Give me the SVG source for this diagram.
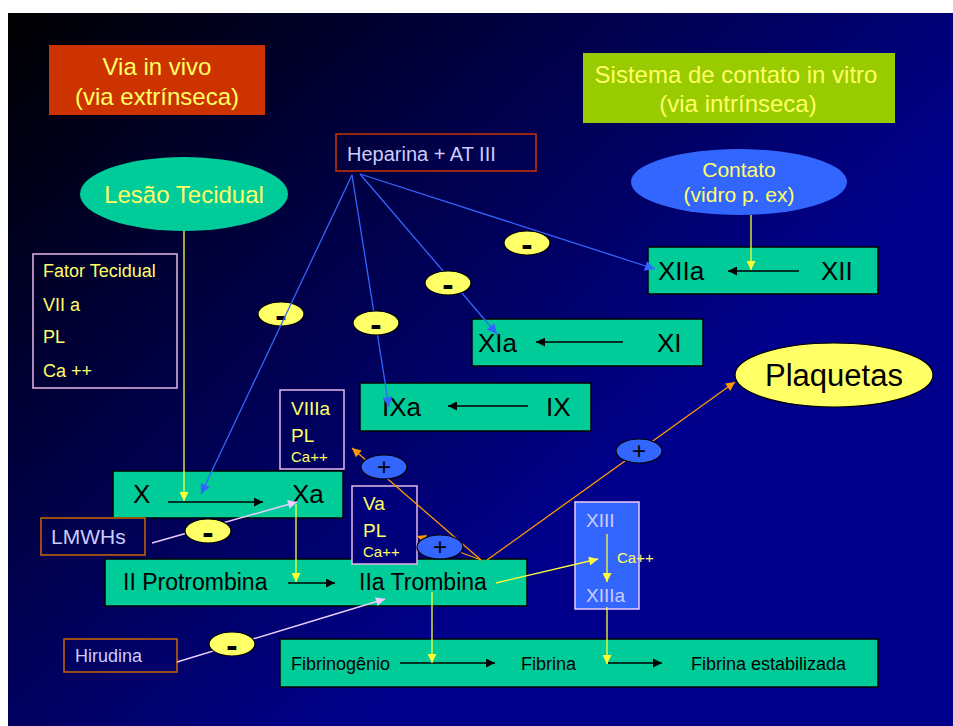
<svg xmlns="http://www.w3.org/2000/svg" width="953" height="726" viewBox="0 0 953 726">
<defs>
<linearGradient id="bg" gradientUnits="userSpaceOnUse" x1="8" y1="13" x2="520" y2="560">
<stop offset="0" stop-color="#000000"/>
<stop offset="1" stop-color="#00008a"/>
</linearGradient>
<marker id="aBlack" viewBox="0 0 10 10" refX="10" refY="5" markerUnits="userSpaceOnUse" markerWidth="10" markerHeight="9" orient="auto"><path d="M0,0 L10,5 L0,10 z" fill="#000"/></marker>
<marker id="aBlue" viewBox="0 0 10 10" refX="10" refY="5" markerUnits="userSpaceOnUse" markerWidth="11" markerHeight="10" orient="auto"><path d="M0,0 L10,5 L0,10 z" fill="#3366ff"/></marker>
<marker id="aYellow" viewBox="0 0 10 10" refX="10" refY="5" markerUnits="userSpaceOnUse" markerWidth="10" markerHeight="9" orient="auto"><path d="M0,0 L10,5 L0,10 z" fill="#ffff33"/></marker>
<marker id="aOrange" viewBox="0 0 10 10" refX="10" refY="5" markerUnits="userSpaceOnUse" markerWidth="10" markerHeight="9" orient="auto"><path d="M0,0 L10,5 L0,10 z" fill="#ff9900"/></marker>
<marker id="aPink" viewBox="0 0 10 10" refX="10" refY="5" markerUnits="userSpaceOnUse" markerWidth="10" markerHeight="9" orient="auto"><path d="M0,0 L10,5 L0,10 z" fill="#eeccff"/></marker>
</defs>
<style>
text{font-family:"Liberation Sans",Arial,sans-serif}
.teal{fill:#00cc99;stroke:#000;stroke-width:1.5}
.blk{fill:#000}
.yel{fill:#ffff66}
.lav{fill:#ccccff}
.pinkbox{fill:none;stroke:#e6b8e6;stroke-width:1.5}
.orbox{fill:none;stroke:#cc6600;stroke-width:1.5}
.minus{fill:#ffff66;stroke:#000;stroke-width:1.2}
.plus{fill:#3366ff;stroke:#000;stroke-width:1.2}
.ab{stroke:#000;stroke-width:1.5;marker-end:url(#aBlack)}
.lb{stroke:#3366ff;stroke-width:1.3;fill:none;marker-end:url(#aBlue)}
.ly{stroke:#ffff33;stroke-width:1.3;fill:none;marker-end:url(#aYellow)}
.lo{stroke:#ff9900;stroke-width:1.3;fill:none;marker-end:url(#aOrange)}
.lp{stroke:#eeccff;stroke-width:1.5;fill:none;marker-end:url(#aPink)}
.msym{font-weight:bold;text-anchor:middle;fill:#000}
.psym{font-weight:normal;text-anchor:middle;fill:#000}
</style>
<rect x="0" y="0" width="953" height="726" fill="#fff"/>
<rect x="8" y="13" width="945" height="713" fill="url(#bg)"/>

<g id="via-in-vivo">
<rect x="49" y="45" width="216" height="70" fill="#cc3300"/>
<text x="157" y="75" font-size="24" text-anchor="middle" class="yel">Via in vivo</text>
<text x="157" y="105" font-size="24" text-anchor="middle" class="yel">(via extrínseca)</text>
</g>
<g id="sistema-contato">
<rect x="583" y="53" width="312" height="70" fill="#99cc00"/>
<text x="736" y="83" font-size="24" text-anchor="middle" class="yel">Sistema de contato in vitro</text>
<text x="738" y="112" font-size="24" text-anchor="middle" class="yel">(via intrínseca)</text>
</g>
<g id="heparina">
<rect x="336" y="134" width="200" height="37" fill="none" stroke="#cc3300" stroke-width="1.5"/>
<text x="347" y="161" font-size="20" class="lav">Heparina + AT III</text>
</g>
<g id="lesao">
<ellipse cx="184" cy="194" rx="104" ry="37" fill="#00cc99"/>
<text x="184" y="203" font-size="24" text-anchor="middle" class="yel">Lesão Tecidual</text>
</g>
<g id="contato">
<ellipse cx="739" cy="182" rx="108" ry="33" fill="#3366ff"/>
<text x="739" y="177" font-size="21" text-anchor="middle" class="yel">Contato</text>
<text x="739" y="202" font-size="21" text-anchor="middle" class="yel">(vidro p. ex)</text>
</g>
<g id="fator-tecidual">
<rect x="33" y="254" width="144" height="134" class="pinkbox"/>
<text x="43" y="277" font-size="18" class="yel">Fator Tecidual</text>
<text x="43" y="311" font-size="18" class="yel">VII a</text>
<text x="43" y="343" font-size="18" class="yel">PL</text>
<text x="43" y="377" font-size="18" class="yel">Ca ++</text>
</g>
<g id="xii">
<rect x="648" y="247" width="230" height="47" class="teal"/>
<text x="658" y="280" font-size="26" class="blk">XIIa</text>
<text x="821" y="280" font-size="26" class="blk">XII</text>
<line x1="799" y1="271" x2="728" y2="271" class="ab"/>
</g>
<g id="xi">
<rect x="472" y="319" width="231" height="47" class="teal"/>
<text x="478" y="352" font-size="26" class="blk">XIa</text>
<text x="657" y="352" font-size="26" class="blk">XI</text>
<line x1="623" y1="342" x2="536" y2="342" class="ab"/>
</g>
<g id="ix">
<rect x="360" y="383" width="231" height="48" class="teal"/>
<text x="382" y="416" font-size="26" class="blk">IXa</text>
<text x="546" y="416" font-size="26" class="blk">IX</text>
<line x1="528" y1="406" x2="448" y2="406" class="ab"/>
</g>
<g id="plaquetas">
<ellipse cx="834" cy="375" rx="99" ry="32" fill="#ffff66" stroke="#000" stroke-width="1.2"/>
<text x="834" y="386" font-size="31" text-anchor="middle" class="blk">Plaquetas</text>
</g>
<g id="viiia">
<rect x="280" y="390" width="64" height="79" class="pinkbox"/>
<text x="291" y="415" font-size="19" class="yel">VIIIa</text>
<text x="291" y="442" font-size="19" class="yel">PL</text>
<text x="291" y="462" font-size="15" class="yel">Ca++</text>
</g>
<g id="x">
<rect x="113" y="471" width="230" height="47" class="teal"/>
<text x="133" y="503" font-size="26" class="blk">X</text>
<text x="292" y="503" font-size="26" class="blk">Xa</text>
<line x1="168" y1="502" x2="263" y2="502" class="ab"/>
</g>
<g id="lmwhs">
<rect x="41" y="518" width="104" height="37" class="orbox"/>
<text x="51" y="544" font-size="21" class="lav">LMWHs</text>
</g>
<g id="trombina">
<rect x="105" y="559" width="422" height="47" class="teal"/>
<text x="123" y="590" font-size="23" class="blk">II Protrombina</text>
<text x="359" y="590" font-size="23" class="blk">IIa Trombina</text>
<line x1="288" y1="583" x2="335" y2="583" class="ab"/>
</g>
<g id="va">
<rect x="352" y="486" width="65" height="78" fill="#00007a" stroke="#e6b8e6" stroke-width="1.5"/>
<text x="363" y="510" font-size="19" class="yel">Va</text>
<text x="363" y="537" font-size="19" class="yel">PL</text>
<text x="363" y="557" font-size="15" class="yel">Ca++</text>
</g>
<g id="xiii">
<rect x="575" y="502" width="64" height="107" fill="#3366ff" stroke="#eeccff" stroke-width="1.5"/>
<text x="586" y="527" font-size="19" class="lav">XIII</text>
<text x="586" y="602" font-size="19" class="lav">XIIIa</text>
<text x="617" y="563" font-size="15" class="yel">Ca++</text>
</g>
<g id="hirudina">
<rect x="64" y="639" width="113" height="33" class="orbox"/>
<text x="75" y="662" font-size="18" class="lav">Hirudina</text>
</g>
<g id="fibrina">
<rect x="280" y="639" width="598" height="48" class="teal"/>
<text x="291" y="670" font-size="18" class="blk">Fibrinogênio</text>
<text x="521" y="670" font-size="18" class="blk">Fibrina</text>
<text x="691" y="670" font-size="18" class="blk">Fibrina estabilizada</text>
<line x1="400" y1="663" x2="495" y2="663" class="ab"/>
<line x1="608" y1="663" x2="662" y2="663" class="ab"/>
</g>

<g id="inhib-x">
<ellipse cx="281" cy="314" rx="23" ry="12" class="minus"/>
<text x="281" y="327" font-size="34" class="msym">-</text>
</g>

<g id="connectors">
<line x1="352" y1="175" x2="201" y2="494" class="lb"/>
<line x1="352" y1="175" x2="389" y2="407" class="lb"/>
<line x1="360" y1="174" x2="497" y2="334" class="lb"/>
<line x1="360" y1="174" x2="655" y2="269" class="lb"/>
<line x1="184" y1="231" x2="184" y2="501" class="ly"/>
<line x1="751" y1="215" x2="751" y2="270" class="ly" stroke="#e6e680"/>
<line x1="296" y1="504" x2="296" y2="582" class="ly"/>
<line x1="432" y1="592" x2="432" y2="663" class="ly"/>
<line x1="496" y1="583" x2="598" y2="559" class="ly"/>
<line x1="607" y1="534" x2="607" y2="582" class="ly"/>
<line x1="607" y1="607" x2="607" y2="664" class="ly"/>
<line x1="481" y1="560" x2="352" y2="448" class="lo"/>
<line x1="481" y1="560" x2="417" y2="536" class="lo"/>
<line x1="487" y1="560" x2="735" y2="382" class="lo"/>
<line x1="152" y1="543" x2="297" y2="502" class="lp"/>
<line x1="177" y1="662" x2="385" y2="599" class="lp"/>
</g>

<g id="inhib-ix">
<ellipse cx="376" cy="323" rx="23" ry="12" class="minus"/>
<text x="376" y="336" font-size="34" class="msym">-</text>
</g>
<g id="inhib-xi">
<ellipse cx="448" cy="283" rx="23" ry="12" class="minus"/>
<text x="448" y="296" font-size="34" class="msym">-</text>
</g>
<g id="inhib-xii">
<ellipse cx="527" cy="243" rx="23" ry="12" class="minus"/>
<text x="527" y="256" font-size="34" class="msym">-</text>
</g>
<g id="inhib-lmwhs">
<ellipse cx="208" cy="531" rx="23" ry="12" class="minus"/>
<text x="208" y="544" font-size="34" class="msym">-</text>
</g>
<g id="inhib-hirudina">
<ellipse cx="232" cy="644" rx="23" ry="12" class="minus"/>
<text x="232" y="657" font-size="34" class="msym">-</text>
</g>
<g id="act-viiia">
<ellipse cx="384" cy="467" rx="23" ry="12" class="plus"/>
<text x="384" y="475" font-size="24" class="psym">+</text>
</g>
<g id="act-va">
<ellipse cx="440" cy="547" rx="23" ry="12" class="plus"/>
<text x="440" y="555" font-size="24" class="psym">+</text>
</g>
<g id="act-plaquetas">
<ellipse cx="639" cy="451" rx="23" ry="12" class="plus"/>
<text x="639" y="459" font-size="24" class="psym">+</text>
</g>
</svg>
